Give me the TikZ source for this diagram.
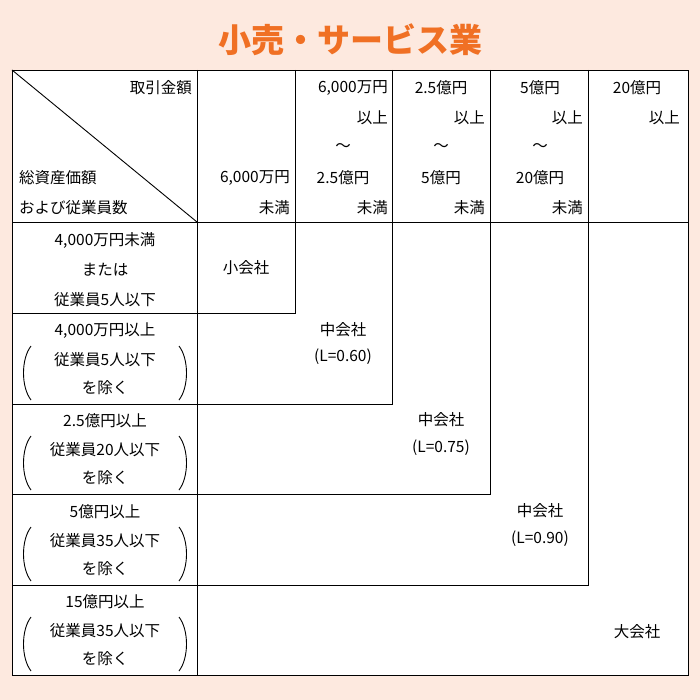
\documentclass[tikz,border=0pt]{standalone}
\usepackage{fontspec}
\setmainfont{Noto Sans CJK JP}
\usetikzlibrary{positioning}
\definecolor{peach}{HTML}{FDE9DF}
\definecolor{titleorange}{HTML}{F07024}
\tikzset{
  txt/.style={inner sep=0pt, font=\fontsize{15.5}{16}\selectfont},
  rtxt/.style={txt, anchor=east},
  ltxt/.style={txt, anchor=west},
  grid/.style={line width=0.9pt, black},
  paren/.style={line width=0.9pt}
}
\begin{document}
\begin{tikzpicture}[x=1pt,y=-1pt]
  \fill[peach] (0,0) rectangle (700,700);
  \useasboundingbox (0,0) rectangle (700,700);
  \node[inner sep=0pt, text=titleorange, font=\fontsize{33}{36}\selectfont\bfseries] (title) at (350,40) {小売・サービス業};

  % table
  \fill[white] (12,70) rectangle (688,675);
  \draw[grid] (12,70) rectangle (688,675);
  \draw[grid] (12,70) -- (197,222);
  \draw[grid] (12,222) -- (688,222);
  \draw[grid] (197,70) -- (197,675);
  \foreach \x in {295,392,490,588} \draw[grid] (\x,70) -- (\x,222);
  \foreach \y in {313,404,494,585} \draw[grid] (12,\y) -- (197,\y);
  % staircase
  \foreach \x/\y in {295/313,392/404,490/494,588/585}
    \draw[grid] (\x,222) -- (\x,\y) -- (197,\y);

  % header
  \node[rtxt] (kin) at (192,88) {取引金額};
  \node[ltxt] (sou) at (19,178) {総資産価額};
  \node[ltxt] (oyo) at (19,208) {および従業員数};
  \node[rtxt] (c2a) at (290,178) {6,000万円};
  \node[rtxt] (c2b) at (290,208) {未満};
  \node[rtxt] (c3a) at (388,88) {6,000万円};
  \node[rtxt] (c3b) at (388,118) {以上};
  \node[txt] (c3c) at (343,148) {～};
  \node[txt] (c3d) at (343,178) {2.5億円};
  \node[rtxt] (c3e) at (388,208) {未満};
  \node[txt] (c4a) at (441,88) {2.5億円};
  \node[rtxt] (c4b) at (485,118) {以上};
  \node[txt] (c4c) at (441,148) {～};
  \node[txt] (c4d) at (441,178) {5億円};
  \node[rtxt] (c4e) at (485,208) {未満};
  \node[txt] (c5a) at (540,88) {5億円};
  \node[rtxt] (c5b) at (583,118) {以上};
  \node[txt] (c5c) at (540,148) {～};
  \node[txt] (c5d) at (540,178) {20億円};
  \node[rtxt] (c5e) at (583,208) {未満};
  \node[txt] (c6a) at (637,88) {20億円};
  \node[rtxt] (c6b) at (680,118) {以上};

  % row labels
  \node[txt] (r1a) at (105,240) {4,000万円未満};
  \node[txt] (r1b) at (105,270) {または};
  \node[txt] (r1c) at (105,300) {従業員5人以下};
  \foreach \n/\y/\a/\b in {2/331/{4,000万円以上}/{従業員5人以下}, 3/421/{2.5億円以上}/{従業員20人以下}, 4/512/{5億円以上}/{従業員35人以下}, 5/602/{15億円以上}/{従業員35人以下}}{
    \node[txt] (r\n a) at (105,\y) {\a};
    \node[txt] (r\n b) at (105,\y+29) {\b};
    \node[txt] (r\n c) at (105,\y+57) {を除く};
    \draw[paren] (31,\y+15) .. controls (21,\y+28) and (21,\y+56) .. (31,\y+69);
    \draw[paren] (179,\y+15) .. controls (189,\y+28) and (189,\y+56) .. (179,\y+69);
  }

  % cells
  \node[txt] (s1) at (246,268) {小会社};
  \node[txt] (m1) at (343,330) {中会社};
  \node[txt] (m1l) at (343,357) {(L=0.60)};
  \node[txt] (m2) at (441,420) {中会社};
  \node[txt] (m2l) at (441,448) {(L=0.75)};
  \node[txt] (m3) at (540,511) {中会社};
  \node[txt] (m3l) at (540,539) {(L=0.90)};
  \node[txt] (big) at (637,632) {大会社};
\end{tikzpicture}
\end{document}
